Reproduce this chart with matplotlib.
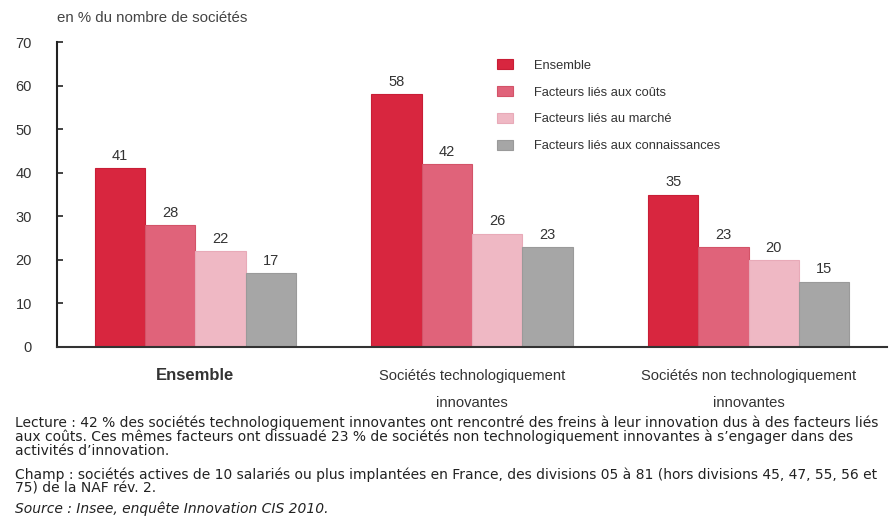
import matplotlib
matplotlib.use("Agg")
import matplotlib.pyplot as plt
import numpy as np

categories = ["Ensemble", "Sociétés technologiquement\ninnovantes", "Sociétés non technologiquement\ninnovantes"]
series_names = ["Ensemble", "Facteurs liés aux coûts", "Facteurs liés au marché", "Facteurs liés aux connaissances"]
ensemble = [41, 58, 35]
couts = [28, 42, 23]
marche = [22, 26, 20]
connaissances = [17, 23, 15]
yticks = [0, 10, 20, 30, 40, 50, 60, 70]

colors = ["#d8263f", "#e0637a", "#efb8c4", "#a6a6a6"]
edges = ["#c81e36", "#d35368", "#e8aab8", "#9a9a9a"]

SANS = ["Liberation Sans", "DejaVu Sans"]

fig = plt.figure(figsize=(8.95, 5.19), dpi=100)
ax = fig.add_axes([57/895, 1-347/519, (887-57)/895, (347-42)/519])

x = np.arange(len(categories))
w = 0.182
data = [ensemble, couts, marche, connaissances]
for i, vals in enumerate(data):
    pos = x + (i - 1.5) * w
    bars = ax.bar(pos, vals, width=w, color=colors[i], edgecolor=edges[i], linewidth=0.8,
                  label=series_names[i], zorder=2)
    for b, v in zip(bars, vals):
        ax.text(b.get_x() + b.get_width()/2, v + 1.2, str(v), ha="center", va="bottom",
                fontsize=10.5, family=SANS, color="#333333")

ax.set_xlim(-0.5, 2.5)
ax.set_ylim(0, 70)
ax.set_yticks(yticks)
ax.set_yticklabels([str(t) for t in yticks], family=SANS, fontsize=10.5, color="#333333")
ax.tick_params(axis="y", direction="in", length=4, width=1.2, color="#222222", pad=18)
ax.set_xticks([])
for s in ["top", "right"]:
    ax.spines[s].set_visible(False)
ax.spines["left"].set_color("#222222")
ax.spines["left"].set_linewidth(1.5)
ax.spines["bottom"].set_color("#333333")
ax.spines["bottom"].set_linewidth(1.5)

# category labels
for xi, cat in zip(x, categories):
    lines = cat.split("\n")
    for j, ln in enumerate(lines):
        bold = (xi == 0)
        ax.text(xi, -6.6 - j * 6.2, ln, ha="center", va="center",
                fontsize=12 if bold else 10.6,
                family=SANS, color="#333333",
                fontweight="bold" if bold else "normal")

fig.text(57/895, 1-18/519, "en % du nombre de sociétés", ha="left", va="center",
         fontsize=10.8, family=SANS, color="#444444")

leg = ax.legend(loc="upper left", bbox_to_anchor=(492/895, 1-54/519), bbox_transform=fig.transFigure,
                frameon=False, prop={"family": SANS, "size": 9.3}, handlelength=1.25,
                handleheight=0.85, handletextpad=1.6, labelspacing=1.1, borderaxespad=0)
for t in leg.get_texts():
    t.set_color("#333333")

foot_lines = [
    (423, "Lecture : 42 % des sociétés technologiquement innovantes ont rencontré des freins à leur innovation dus à des facteurs liés", "normal"),
    (437, "aux coûts. Ces mêmes facteurs ont dissuadé 23 % de sociétés non technologiquement innovantes à s’engager dans des", "normal"),
    (451, "activités d’innovation.", "normal"),
    (475, "Champ : sociétés actives de 10 salariés ou plus implantées en France, des divisions 05 à 81 (hors divisions 45, 47, 55, 56 et", "normal"),
    (489, "75) de la NAF rév. 2.", "normal"),
    (509, "Source : Insee, enquête Innovation CIS 2010.", "italic"),
]
for yy, txt, style in foot_lines:
    fig.text(15/895, 1-yy/519, txt, ha="left", va="center", fontsize=10,
             family=["DejaVu Sans"], style=style, color="#222222")

fig.savefig("out.png", dpi=100)
